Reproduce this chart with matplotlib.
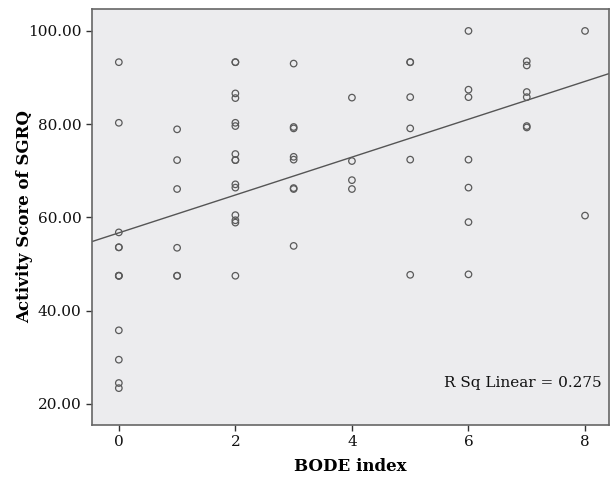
import matplotlib
matplotlib.use('Agg')
import matplotlib.pyplot as plt
import numpy as np

# BODE index vs SGRQ activity score
bode = [0, 0, 0, 0, 0, 0, 0, 0, 0, 0, 0, 0,
        1, 1, 1, 1, 1, 1,
        2, 2, 2, 2, 2, 2, 2, 2, 2, 2, 2, 2, 2, 2, 2,
        3, 3, 3, 3, 3, 3, 3, 3,
        4, 4, 4, 4,
        5, 5, 5, 5, 5, 5,
        6, 6, 6, 6, 6, 6, 6,
        7, 7, 7, 7, 7, 7,
        8, 8]
activity = [93.3, 80.3, 56.8, 53.6, 53.6, 47.5, 47.5, 35.8, 29.5, 24.5, 23.4, 47.5,
            78.9, 72.3, 66.1, 53.5, 47.5, 47.5,
            93.3, 93.3, 86.6, 85.6, 80.3, 79.6, 73.6, 72.3, 67.1, 66.4, 60.5, 59.4, 58.9, 47.5, 72.3,
            93.0, 79.4, 79.1, 73.0, 72.4, 66.3, 66.1, 53.9,
            85.7, 72.1, 68.0, 66.1,
            93.3, 85.8, 79.1, 72.4, 47.7, 93.3,
            100.0, 87.4, 85.8, 72.4, 66.4, 59.0, 47.8,
            93.5, 92.6, 86.9, 85.8, 79.6, 79.3,
            100.0, 60.4]

# fitted line as shown in the reference
fit_intercept = 56.7
fit_slope = 4.06
r_sq_text = 'R Sq Linear = 0.275'

xticks = [0, 2, 4, 6, 8]
yticks = [20, 40, 60, 80, 100]

plt.rcParams['font.family'] = ['DejaVu Serif']

fig = plt.figure(figsize=(6.11, 4.82), dpi=100)
ax = fig.add_axes([0.1506, 0.1183, 0.846, 0.863])
ax.set_facecolor('#ececee')

ax.scatter(bode, activity, s=22, facecolors='none', edgecolors='#5a5a5a',
           linewidths=0.9, zorder=3)

x0, x1 = -0.46, 8.41
xl = np.array([x0, x1])
ax.plot(xl, fit_intercept + fit_slope * xl, color='#555555', lw=1.0, zorder=2)

ax.set_xlim(x0, x1)
ax.set_ylim(15.5, 104.7)
ax.set_xticks(xticks)
ax.set_yticks(yticks)
ax.set_yticklabels([f'{v:.2f}' for v in yticks])
ax.tick_params(direction='out', length=4, width=1, colors='#333333',
               labelsize=11, labelcolor='#111111')
for s in ax.spines.values():
    s.set_color('#666666')
    s.set_linewidth(1.2)

ax.text(0.985, 0.085, r_sq_text, transform=ax.transAxes, ha='right', va='bottom',
        fontsize=11, color='#111111')

ax.set_xlabel('BODE index', fontsize=12, fontweight='bold', labelpad=6)
ax.set_ylabel('Activity Score of SGRQ', fontsize=12, fontweight='bold')
ax.yaxis.set_label_coords(-0.114, 0.5)

fig.savefig('out.png', dpi=100, facecolor='white')
